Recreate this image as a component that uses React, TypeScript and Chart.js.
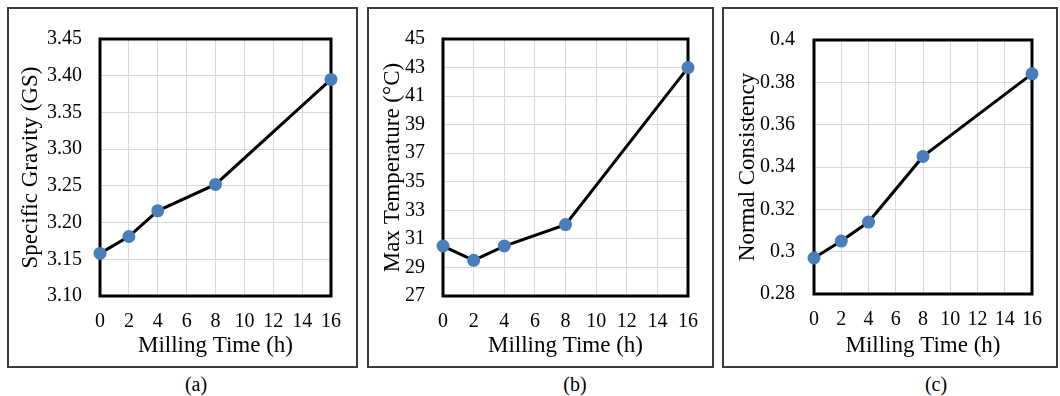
import React, { useEffect, useRef } from "react";
import { Chart, registerables } from "chart.js";

Chart.register(...registerables);

// ---- data ----
const millingTime = [0, 2, 4, 8, 16];
const specificGravity = [3.158, 3.181, 3.216, 3.252, 3.395];
const maxTemperature = [30.5, 29.5, 30.5, 32.0, 43.0];
const normalConsistency = [0.297, 0.305, 0.314, 0.345, 0.384];

const xTitle = "Milling Time (h)";
const yTitles = ["Specific Gravity (GS)", "Max Temperature (°C)", "Normal Consistency"];
const captions = ["(a)", "(b)", "(c)"];

const FONT = "'Liberation Serif', 'Times New Roman', serif";

const framePlugin = {
  id: "frame",
  beforeDatasetsDraw(chart: any) {
    const { ctx, chartArea } = chart;
    const { left, top, right, bottom } = chartArea;
    ctx.save();
    ctx.strokeStyle = "#000";
    ctx.lineWidth = 3;
    ctx.strokeRect(left, top, right - left, bottom - top);
    ctx.restore();
  },
};

type PanelProps = {
  values: number[];
  yMin: number;
  yMax: number;
  yStep: number;
  yFormat: (v: number) => string;
  yTitle: string;
  caption: string;
  box: { left: number; top: number; width: number; height: number };
  plot: { left: number; top: number; right: number; bottom: number };
  yTickPad: number;
  yTitlePad: number;
  captionX: number;
};

function Panel(p: PanelProps) {
  const ref = useRef<HTMLCanvasElement | null>(null);
  const bw = 2;
  const cLeft = p.box.left + bw;
  const cTop = p.box.top + bw;
  const cW = p.box.width - 2 * bw;
  const cH = p.box.height - 2 * bw;

  useEffect(() => {
    if (!ref.current) return;
    const yAxisW = p.plot.left - cLeft;
    const xAxisH = cTop + cH - p.plot.bottom;
    const padTop = p.plot.top - cTop;
    const padRight = cLeft + cW - p.plot.right;
    const chart = new Chart(ref.current, {
      type: "line",
      data: {
        datasets: [
          {
            data: millingTime.map((x, i) => ({ x, y: p.values[i] })),
            borderColor: "#000",
            borderWidth: 3,
            pointRadius: 6.5,
            pointBackgroundColor: "#4a7ebb",
            pointBorderColor: "#4a7ebb",
            pointBorderWidth: 0,
            tension: 0,
            clip: false as any,
          },
        ],
      },
      options: {
        animation: false,
        responsive: false,
        maintainAspectRatio: false,
        layout: { padding: { top: padTop, right: padRight, left: 0, bottom: 0 } },
        plugins: { legend: { display: false }, tooltip: { enabled: false } },
        scales: {
          x: {
            type: "linear",
            min: 0,
            max: 16,
            ticks: {
              stepSize: 2,
              color: "#000",
              font: { family: FONT, size: 20 },
              padding: 14,
              maxRotation: 0,
            },
            grid: { color: "#d9d9d9", lineWidth: 1, drawTicks: false },
            border: { display: false },
            title: {
              display: true,
              text: xTitle,
              color: "#000",
              font: { family: FONT, size: 23 },
              padding: { top: 0, bottom: 6 },
            },
            afterFit(scale: any) {
              scale.height = xAxisH;
            },
          },
          y: {
            type: "linear",
            min: p.yMin,
            max: p.yMax,
            ticks: {
              stepSize: p.yStep,
              color: "#000",
              font: { family: FONT, size: 20 },
              padding: p.yTickPad,
              callback: (v: any) => p.yFormat(Number(v)),
            },
            grid: { color: "#d9d9d9", lineWidth: 1, drawTicks: false },
            border: { display: false },
            title: {
              display: true,
              text: p.yTitle,
              color: "#000",
              font: { family: FONT, size: 23 },
              padding: { top: p.yTitlePad, bottom: 0 },
            },
            afterFit(scale: any) {
              scale.width = yAxisW;
            },
          },
        },
      },
      plugins: [framePlugin],
    });
    return () => chart.destroy();
  }, []);

  return (
    <>
      <div
        style={{
          position: "absolute",
          left: p.box.left,
          top: p.box.top,
          width: p.box.width,
          height: p.box.height,
          boxSizing: "border-box",
          border: `${bw}px solid #3c3c3c`,
        }}
      />
      <canvas
        ref={ref}
        width={cW}
        height={cH}
        style={{ position: "absolute", left: cLeft, top: cTop, width: cW, height: cH }}
      />
      <div
        style={{
          position: "absolute",
          left: p.captionX - 40,
          width: 80,
          top: 372,
          height: 24,
          lineHeight: "24px",
          textAlign: "center",
          fontFamily: FONT,
          fontSize: 20,
          color: "#000",
        }}
      >
        {p.caption}
      </div>
    </>
  );
}

export default function App() {
  return (
    <div
      style={{
        position: "absolute",
        left: 0,
        top: 0,
        width: 1060,
        height: 396,
        background: "#fff",
        overflow: "hidden",
      }}
    >
      <Panel
        values={specificGravity}
        yMin={3.1}
        yMax={3.45}
        yStep={0.05}
        yFormat={(v) => v.toFixed(2)}
        yTitle={yTitles[0]}
        caption={captions[0]}
        box={{ left: 7, top: 7, width: 351, height: 361 }}
        plot={{ left: 100, top: 29, right: 331, bottom: 296 }}
        yTickPad={18}
        yTitlePad={8}
        captionX={196}
      />
      <Panel
        values={maxTemperature}
        yMin={27}
        yMax={45}
        yStep={2}
        yFormat={(v) => String(Math.round(v))}
        yTitle={yTitles[1]}
        caption={captions[1]}
        box={{ left: 367, top: 7, width: 347, height: 361 }}
        plot={{ left: 443, top: 29, right: 690, bottom: 296 }}
        yTickPad={18}
        yTitlePad={10}
        captionX={575}
      />
      <Panel
        values={normalConsistency}
        yMin={0.28}
        yMax={0.4}
        yStep={0.02}
        yFormat={(v) => String(Number(v.toFixed(2)))}
        yTitle={yTitles[2]}
        caption={captions[2]}
        box={{ left: 722, top: 7, width: 336, height: 361 }}
        plot={{ left: 814, top: 32, right: 1047, bottom: 294 }}
        yTickPad={19}
        yTitlePad={10}
        captionX={936}
      />
    </div>
  );
}
